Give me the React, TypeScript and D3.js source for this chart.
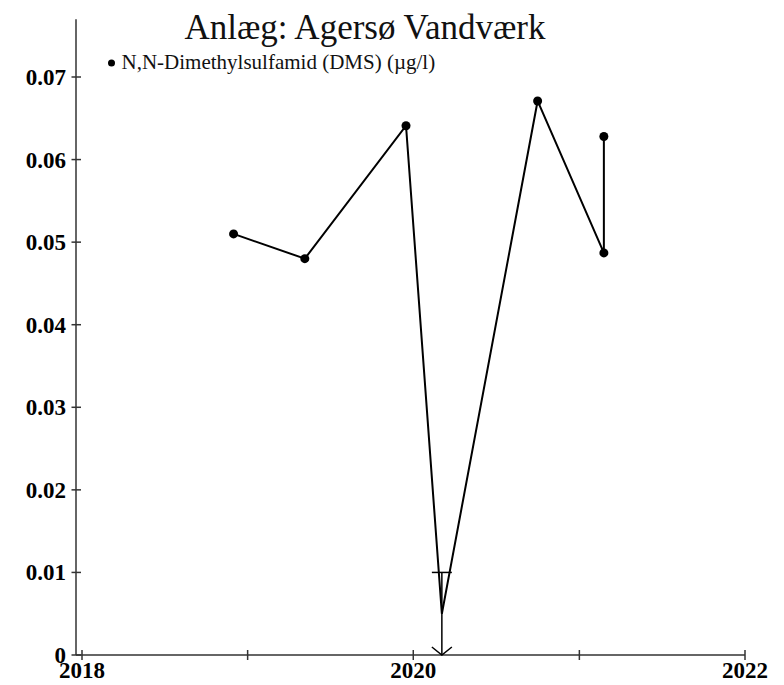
import React from 'react';
import * as d3 from 'd3';

// DMS measurements at Agersø Vandværk (µg/l)
const sampleDates = ['2018-12-01', '2019-05-07', '2019-12-16', '2020-03-04', '2020-10-01', '2021-02-24', '2021-02-24'];
const sampleValues = [0.051, 0.048, 0.0641, 0.005, 0.0671, 0.0487, 0.0628];
// true where the result was below the detection limit
const belowLimit = [false, false, false, true, false, false, false];
const detectionLimit = 0.01;

const yTicks = [0, 0.01, 0.02, 0.03, 0.04, 0.05, 0.06, 0.07];
const xTickYears = [2018, 2019, 2020, 2021, 2022];
const xLabelYears = [2018, 2020, 2022];

const title = 'Anlæg: Agersø Vandværk';
const seriesName = 'N,N-Dimethylsulfamid (DMS) (µg/l)';

const width = 784;
const height = 685;

const App = () => {
  const x = d3.scaleTime()
    .domain([new Date(2018, 0, 1), new Date(2022, 0, 1)])
    .range([82, 745]);
  const y = d3.scaleLinear()
    .domain([0, 0.077])
    .range([655, 19.2]);

  const points = sampleDates.map((d, i) => ({
    date: new Date(d),
    value: sampleValues[i],
    below: belowLimit[i],
  }));

  const line = d3.line<{ date: Date; value: number }>()
    .x(d => x(d.date))
    .y(d => y(d.value));

  const axisX = 76;
  const serif = '"Liberation Serif", "Times New Roman", serif';

  return (
    <svg width={width} height={height} style={{ position: 'absolute', left: 0, top: 0 }}>
      <rect width={width} height={height} fill="#fff" />
      <text x={365} y={39} textAnchor="middle" fontFamily={serif} fontSize={35} fill="#111">{title}</text>

      {/* legend */}
      <circle cx={111.5} cy={63} r={3.5} fill="#000" />
      <text x={121.5} y={69} fontFamily={serif} fontSize={21} fill="#111">{seriesName}</text>

      {/* axes */}
      <line x1={axisX} x2={axisX} y1={y(0.077)} y2={y(0)} stroke="#333" strokeWidth={1.5} />
      <line x1={axisX} x2={x(new Date(2022, 0, 1))} y1={y(0)} y2={y(0)} stroke="#333" strokeWidth={1.5} />
      {yTicks.map(t => (
        <g key={t}>
          <line x1={axisX - 4.5} x2={axisX + 5} y1={y(t)} y2={y(t)} stroke="#333" strokeWidth={1.5} />
          <text x={66} y={y(t) + 8} textAnchor="end" fontFamily={serif} fontWeight="bold" fontSize={23} fill="#000">
            {d3.format('~g')(t)}
          </text>
        </g>
      ))}
      {xTickYears.map(yr => (
        <line key={yr} x1={x(new Date(yr, 0, 1))} x2={x(new Date(yr, 0, 1))} y1={y(0) - 5} y2={y(0) + 5} stroke="#333" strokeWidth={1.5} />
      ))}
      {xLabelYears.map(yr => (
        <text key={yr} x={x(new Date(yr, 0, 1))} y={678} textAnchor="middle" fontFamily={serif} fontWeight="bold" fontSize={23} fill="#000">
          {yr}
        </text>
      ))}

      {/* series */}
      <path d={line(points) || ''} fill="none" stroke="#000" strokeWidth={2} />
      {points.filter(p => !p.below).map((p, i) => (
        <circle key={i} cx={x(p.date)} cy={y(p.value)} r={4.5} fill="#000" />
      ))}
      {points.filter(p => p.below).map((p, i) => {
        const px = x(p.date);
        return (
          <g key={'b' + i} stroke="#000" strokeWidth={1.5} fill="none">
            <line x1={px - 10} x2={px + 10} y1={y(detectionLimit)} y2={y(detectionLimit)} />
            <line x1={px} x2={px} y1={y(detectionLimit)} y2={y(0)} />
            <polyline points={`${px - 10},${y(0) - 8} ${px},${y(0)} ${px + 10},${y(0) - 8}`} />
          </g>
        );
      })}
    </svg>
  );
};

export default App;
